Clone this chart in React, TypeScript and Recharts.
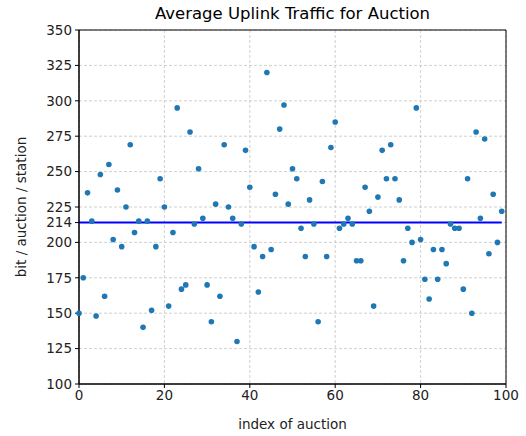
import React from "react";
import {
  ScatterChart,
  Scatter,
  XAxis,
  YAxis,
  CartesianGrid,
  ReferenceLine,
  ReferenceArea,
} from "recharts";

const uplink = [
  150, 175, 235, 215, 148, 248, 162, 255, 202, 237,
  197, 225, 269, 207, 215, 140, 215, 152, 197, 245,
  225, 155, 207, 295, 167, 170, 278, 213, 252, 217,
  170, 144, 227, 162, 269, 225, 217, 130, 213, 265,
  239, 197, 165, 190, 320, 195, 234, 280, 297, 227,
  252, 245, 210, 190, 230, 213, 144, 243, 190, 267,
  285, 210, 213, 217, 213, 187, 187, 239, 222, 155,
  232, 265, 245, 269, 245, 230, 187, 210, 200, 295,
  202, 174, 160, 195, 174, 195, 185, 213, 210, 210,
  167, 245, 150, 278, 217, 273, 192, 234, 200, 222,
];

const average = 214;
const xTicks = [0, 20, 40, 60, 80, 100];
const yTicks = [100, 125, 150, 175, 200, 214, 225, 250, 275, 300, 325, 350];

const points = uplink.map((v, i) => ({ idx: i, bits: v }));

const font = "DejaVu Sans, sans-serif";

const Dot = (props: any) => (
  <circle cx={props.cx} cy={props.cy} r={2.8} fill="#1f77b4" />
);

export default function App() {
  return (
    <div style={{ position: "absolute", left: 0, top: 0, width: 526, height: 436, background: "#fff" }}>
      <div
        style={{
          position: "absolute",
          top: 4,
          left: 79,
          width: 427,
          textAlign: "center",
          fontFamily: font,
          fontSize: 16.5,
          color: "#000",
        }}
      >
        Average Uplink Traffic for Auction
      </div>
      <ScatterChart
        width={526}
        height={436}
        margin={{ top: 30, right: 20, bottom: 0, left: 0 }}
        style={{ fontFamily: font }}
      >
        <CartesianGrid stroke="#c4c4c4" strokeDasharray="3 2" strokeWidth={0.8} />
        <XAxis
          type="number"
          dataKey="idx"
          domain={[0, 100]}
          ticks={xTicks}
          height={52}
          tickSize={4}
          tickMargin={2}
          stroke="#000"
          tick={{ fill: "#222", fontSize: 13.5 }}
          label={{ value: "index of auction", position: "insideBottom", offset: 7, fill: "#222", fontSize: 13.5 }}
        />
        <YAxis
          type="number"
          dataKey="bits"
          domain={[100, 350]}
          ticks={yTicks}
          width={79}
          tickSize={4}
          tickMargin={3}
          stroke="#000"
          interval={0}
          tick={{ fill: "#222", fontSize: 13.5 }}
          label={{
            value: "bit / auction / station",
            angle: -90,
            position: "insideLeft",
            offset: 21,
            fill: "#222",
            fontSize: 13.5,
            style: { textAnchor: "middle" },
          }}
        />
        <ReferenceArea x1={0} x2={100} y1={100} y2={350} fill="none" stroke="#000" strokeWidth={1} ifOverflow="visible" />
        <Scatter data={points} fill="#1f77b4" shape={Dot} isAnimationActive={false} />
        <ReferenceLine
          segment={[
            { x: 0, y: average },
            { x: 99, y: average },
          ]}
          stroke="#0000ff"
          strokeWidth={2}
        />
      </ScatterChart>
    </div>
  );
}
